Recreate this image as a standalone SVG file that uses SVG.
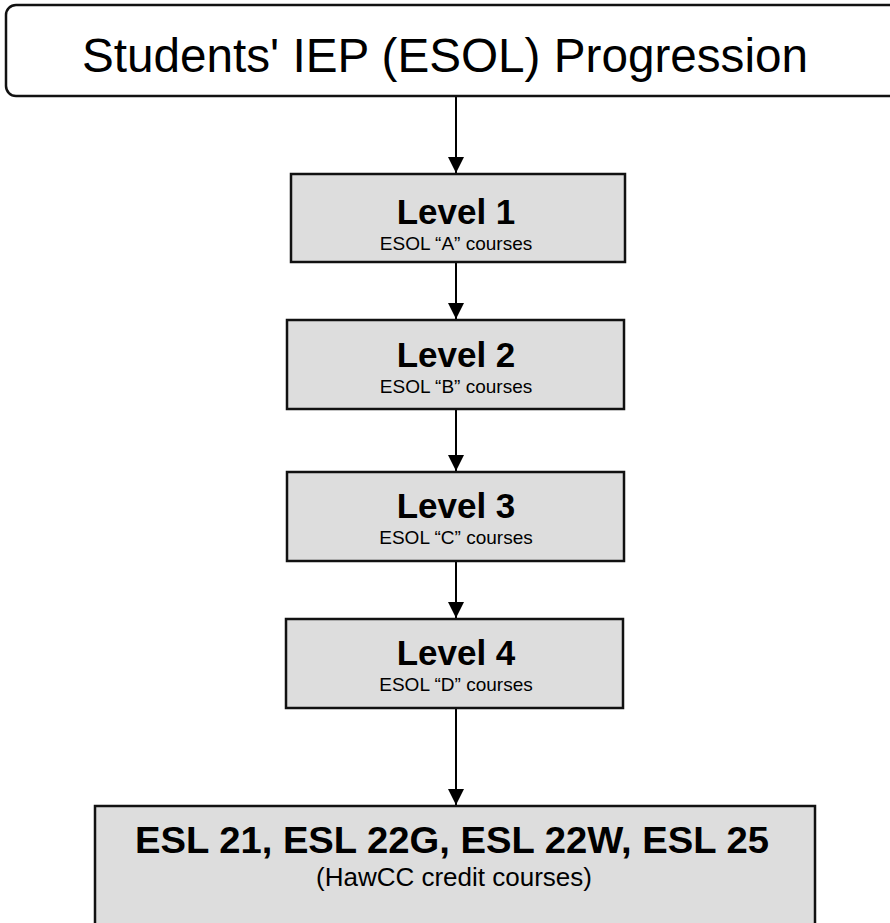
<svg xmlns="http://www.w3.org/2000/svg" width="890" height="923" viewBox="0 0 890 923">
  <style>
    .box { fill: #dddddd; stroke: #111111; stroke-width: 2.5; }
    .title-box { fill: #ffffff; stroke: #111111; stroke-width: 2.5; }
    .conn { stroke: #000000; stroke-width: 2; fill: none; marker-end: url(#arrow); }
    text { font-family: "Liberation Sans", Arial, sans-serif; fill: #000000; text-anchor: middle; }
    .title { font-size: 48px; }
    .lvl { font-size: 35px; font-weight: bold; }
    .sub { font-size: 19px; }
    .big { font-size: 37px; font-weight: bold; }
    .big-sub { font-size: 26px; }
  </style>
  <defs>
    <marker id="arrow" markerUnits="userSpaceOnUse" markerWidth="16" markerHeight="16" viewBox="0 0 16 16" refX="16" refY="8" orient="auto">
      <path d="M0,0 L16,8 L0,16 Z" fill="#000000"/>
    </marker>
  </defs>

  <g id="connectors">
    <line class="conn" x1="456" y1="97" x2="456" y2="173"/>
    <line class="conn" x1="456" y1="263" x2="456" y2="319"/>
    <line class="conn" x1="456" y1="410" x2="456" y2="471"/>
    <line class="conn" x1="456" y1="562" x2="456" y2="618"/>
    <line class="conn" x1="456" y1="709" x2="456" y2="805"/>
  </g>

  <g id="title">
    <rect class="title-box" x="6" y="5" width="920" height="91" rx="10" ry="10"/>
    <text class="title" x="445" y="72" textLength="726" lengthAdjust="spacingAndGlyphs">Students' IEP (ESOL) Progression</text>
  </g>

  <g id="level1">
    <rect class="box" x="291" y="174" width="334" height="88"/>
    <text class="lvl" x="456" y="224">Level 1</text>
    <text class="sub" x="456" y="250">ESOL “A” courses</text>
  </g>

  <g id="level2">
    <rect class="box" x="287" y="320" width="337" height="89"/>
    <text class="lvl" x="456" y="367">Level 2</text>
    <text class="sub" x="456" y="393">ESOL “B” courses</text>
  </g>

  <g id="level3">
    <rect class="box" x="287" y="472" width="337" height="89"/>
    <text class="lvl" x="456" y="518">Level 3</text>
    <text class="sub" x="456" y="544">ESOL “C” courses</text>
  </g>

  <g id="level4">
    <rect class="box" x="286" y="619" width="337" height="89"/>
    <text class="lvl" x="456" y="665">Level 4</text>
    <text class="sub" x="456" y="691">ESOL “D” courses</text>
  </g>

  <g id="credit">
    <rect class="box" x="95" y="806" width="720" height="140"/>
    <text class="big" x="452" y="853" textLength="634" lengthAdjust="spacingAndGlyphs">ESL 21, ESL 22G, ESL 22W, ESL 25</text>
    <text class="big-sub" x="454" y="886">(HawCC credit courses)</text>
  </g>
</svg>
